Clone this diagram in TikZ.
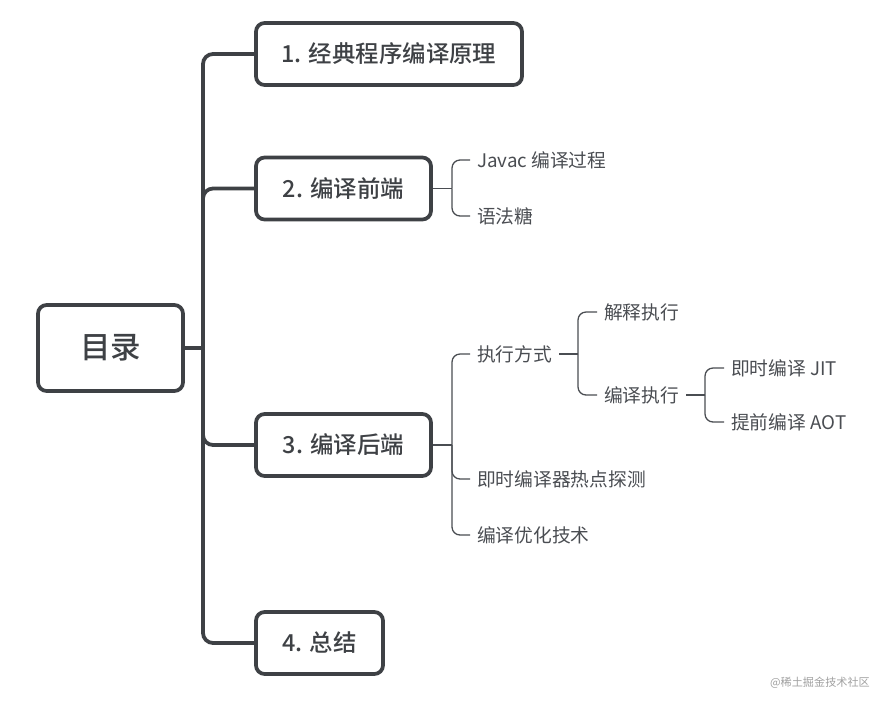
\documentclass[tikz,border=0pt]{standalone}
\usepackage{fontspec}
\setmainfont{Noto Sans CJK SC}[BoldFont={Noto Sans CJK SC Medium}]
\definecolor{ink}{HTML}{3E4145}
\definecolor{leafink}{HTML}{4A4D52}
\definecolor{wmark}{HTML}{A0A0A0}
\begin{document}
\begin{tikzpicture}[
  x=0.03cm, y=-0.03cm,
  box/.style={draw=ink, line width=3.2pt, rounded corners=0.26cm, fill=white, text=ink, font=\fontsize{20}{24}\selectfont\bfseries, minimum height=1.86cm, inner sep=0pt},
  leaf/.style={anchor=west, inner xsep=0.21cm, inner ysep=0pt, text=leafink, font=\fontsize{16}{19}\selectfont},
  trunk/.style={draw=ink, line width=3.2pt, rounded corners=0.3cm},
  twig/.style={draw=leafink, line width=1.1pt, rounded corners=0.24cm}
]
\useasboundingbox (0,0) rectangle (875,700);

% Root and first level
\node[box, minimum width=4.35cm, font=\fontsize{26}{30}\selectfont\bfseries, minimum height=2.58cm] (root) at (110.5,348) {目录};
\node[box, minimum width=7.98cm] (b1) at (389,54) {1. 经典程序编译原理};
\node[box, minimum width=5.25cm] (b2) at (343.5,188.5) {2. 编译前端};
\node[box, minimum width=5.25cm] (b3) at (343.5,445) {3. 编译后端};
\node[box, minimum width=3.81cm] (b4) at (319.5,643) {4. 总结};

% Spine of the tree
\coordinate (spine) at (203,348);
\draw[trunk] (root.east) -- (spine);
\draw[trunk] (spine) |- (b1.west);
\draw[trunk] (spine) |- (b2.west);
\draw[trunk] (spine) |- (b3.west);
\draw[trunk] (spine) |- (b4.west);

% Front end children
\node[leaf] (javac) at (470,160) {Javac 编译过程};
\node[leaf] (sugar) at (470,216) {语法糖};
\coordinate (k2) at (452,188.5);
\draw[twig] (b2.east) -- (k2);
\draw[twig] (k2) |- (javac.west);
\draw[twig] (k2) |- (sugar.west);

% Back end children
\node[leaf] (mode) at (470,354) {执行方式};
\node[leaf] (hot) at (470,479) {即时编译器热点探测};
\node[leaf] (opt) at (470,535) {编译优化技术};
\coordinate (k3) at (452,445);
\draw[twig] (b3.east) -- (k3);
\draw[twig] (k3) |- (mode.west);
\draw[twig] (k3) |- (hot.west);
\draw[twig] (k3) |- (opt.west);

% Execution modes
\node[leaf] (interp) at (597,312) {解释执行};
\node[leaf] (compl) at (597,395) {编译执行};
\coordinate (km) at (578,354);
\draw[twig] (mode.east) -- (km);
\draw[twig] (km) |- (interp.west);
\draw[twig] (km) |- (compl.west);

% Compiled execution
\node[leaf] (jit) at (724,368) {即时编译 JIT};
\node[leaf] (aot) at (724,422) {提前编译 AOT};
\coordinate (kc) at (705,395);
\draw[twig] (compl.east) -- (kc);
\draw[twig] (kc) |- (jit.west);
\draw[twig] (kc) |- (aot.west);

% Watermark
\node[anchor=east, text=wmark, font=\fontsize{9.5}{11}\selectfont, inner sep=0pt] (wm) at (870,683) {@稀土掘金技术社区};

\end{tikzpicture}
\end{document}
